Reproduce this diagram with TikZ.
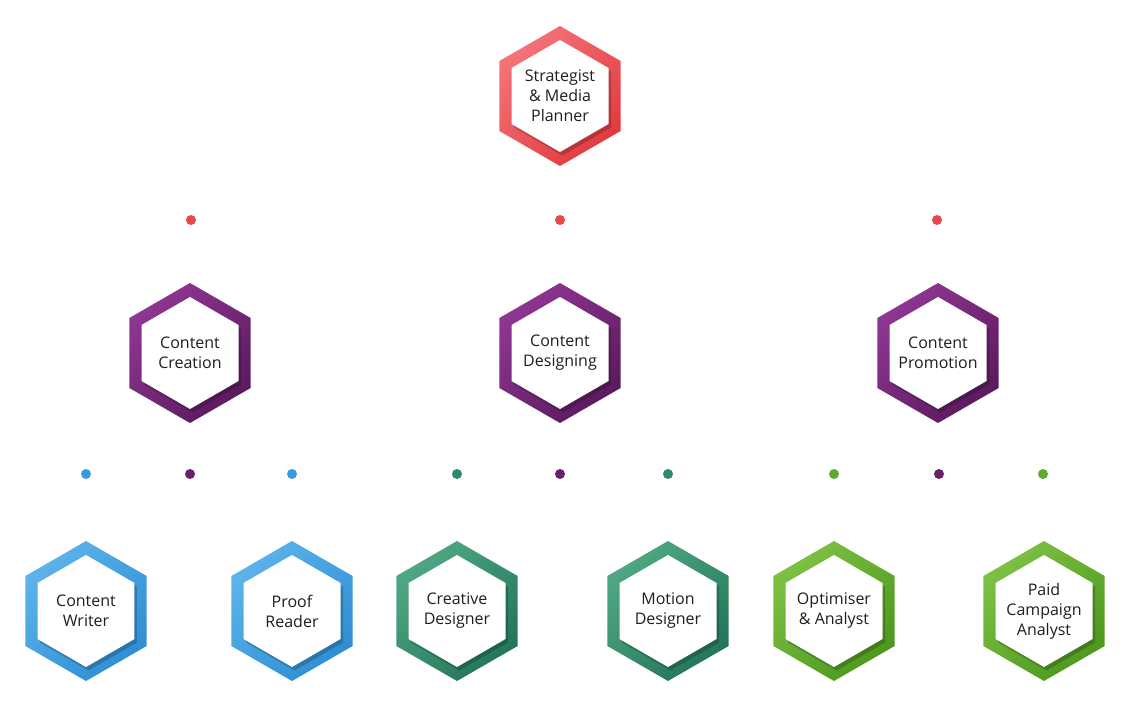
\documentclass[tikz,border=0pt]{standalone}
\usepackage{fontspec}
\setmainfont{Open Sans}
\usetikzlibrary{shapes.geometric,shadows,shadings}
\definecolor{redA}{HTML}{F47478}\definecolor{redB}{HTML}{E13A40}\definecolor{redD}{HTML}{E8474C}
\definecolor{purA}{HTML}{8F3692}\definecolor{purB}{HTML}{5B1A5E}\definecolor{purD}{HTML}{6A1F6B}
\definecolor{bluA}{HTML}{5DB3EA}\definecolor{bluB}{HTML}{2F8ED3}\definecolor{bluD}{HTML}{3A9BDC}
\definecolor{teaA}{HTML}{4FA883}\definecolor{teaB}{HTML}{237658}\definecolor{teaD}{HTML}{2E8B66}
\definecolor{grnA}{HTML}{7DC144}\definecolor{grnB}{HTML}{4D981E}\definecolor{grnD}{HTML}{5DAA2C}
\definecolor{txt}{HTML}{1E1E1E}
\tikzset{
  hexouter/.style n args={2}{regular polygon, regular polygon sides=6, regular polygon rotate=30, minimum size=140pt, inner sep=0pt,
    left color=#1, right color=#2, shading angle=45, draw=none},
  hexinner/.style={regular polygon, regular polygon sides=6, regular polygon rotate=30, minimum size=112pt, inner sep=0pt, fill=white, draw=none,
    drop shadow={shadow xshift=2.5pt, shadow yshift=-3.5pt, fill=black, opacity=0.2}},
  lbl/.style={align=center, font=\fontsize{16}{20}\selectfont, text=txt, inner sep=0pt},
  dot/.style={circle, fill=#1, minimum size=10pt, inner sep=0pt, draw=none},
}
\newcommand{\hexnode}[6]{%
  \node[hexouter={#3}{#4}] (#1) at (#2) {};
  \node[hexinner] (#1i) at (#1.center) {};
  \node[lbl] (#1t) at (#1.center) {#5};
}
\begin{document}
\begin{tikzpicture}[x=1pt,y=-1pt]
\useasboundingbox (0,0) rectangle (1130,701);
\hexnode{top}{560,96}{redA}{redB}{Strategist\\\& Media\\Planner}{}
\hexnode{cc}{190,353}{purA}{purB}{Content\\Creation}{}
\hexnode{cd}{560,353}{purA}{purB}{Content\\Designing}{}
\hexnode{cp}{938,353}{purA}{purB}{Content\\Promotion}{}
\hexnode{cw}{86,611}{bluA}{bluB}{Content\\Writer}{}
\hexnode{pr}{292,611}{bluA}{bluB}{Proof\\Reader}{}
\hexnode{crd}{457,611}{teaA}{teaB}{Creative\\Designer}{}
\hexnode{md}{668,611}{teaA}{teaB}{Motion\\Designer}{}
\hexnode{oa}{834,611}{grnA}{grnB}{Optimiser\\\& Analyst}{}
\hexnode{pca}{1044,611}{grnA}{grnB}{Paid\\Campaign\\Analyst}{}
% dots row 1
\node[dot=redD] (d1) at (191,220) {};
\node[dot=redD] (d2) at (560,220) {};
\node[dot=redD] (d3) at (937,220) {};
% dots row 2
\node[dot=bluD] (e1) at (86,474) {};
\node[dot=purD] (e2) at (190,474) {};
\node[dot=bluD] (e3) at (292,474) {};
\node[dot=teaD] (e4) at (457,474) {};
\node[dot=purD] (e5) at (560,474) {};
\node[dot=teaD] (e6) at (668,474) {};
\node[dot=grnD] (e7) at (834,474) {};
\node[dot=purD] (e8) at (939,474) {};
\node[dot=grnD] (e9) at (1043,474) {};
\end{tikzpicture}
\end{document}
